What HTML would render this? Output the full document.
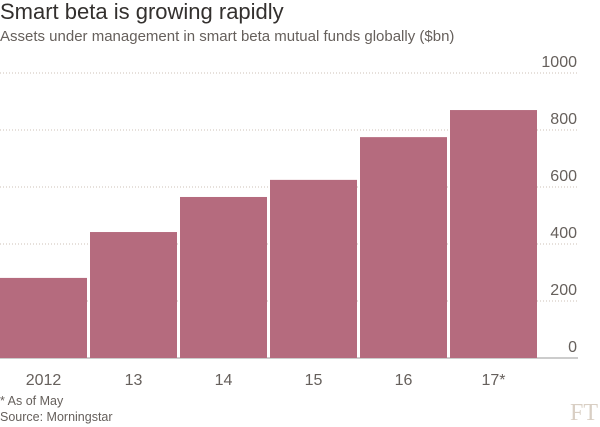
<!DOCTYPE html>
<html><head><meta charset="utf-8"><style>
body{margin:0;width:600px;height:426px;background:#fff;font-family:"Liberation Sans",sans-serif;overflow:hidden;position:relative}
.t{position:absolute;left:0;top:-1px;font-size:22px;color:#33302e}
.s{position:absolute;left:0;top:28px;font-size:15px;color:#66605c}
.n{position:absolute;left:0;font-size:12.5px;color:#66605c}
.ft{position:absolute;right:2px;top:400px;font-family:"Liberation Serif",serif;font-size:24px;color:#d9cfc4}
</style></head><body>
<div class="t">Smart beta is growing rapidly</div>
<div class="s">Assets under management in smart beta mutual funds globally ($bn)</div>
<svg id="c" width="600" height="426" style="position:absolute;left:0;top:0"></svg>
<div class="n" style="top:394px">* As of May</div>
<div class="n" style="top:410px">Source: Morningstar</div>
<div class="ft">FT</div>
<script>
const categories=["2012","13","14","15","16","17*"];
const values=[281,442,565,625,775,870];
const ticks=[0,200,400,600,800,1000];
const svg=document.getElementById('c');const NS='http://www.w3.org/2000/svg';
const y0=358,k=57/200;const y=v=>y0-v*k;const x=i=>i*90;
function mk(t,a){const e=document.createElementNS(NS,t);for(const q in a)e.setAttribute(q,a[q]);svg.appendChild(e);return e;}
ticks.forEach(t=>{
 const l=mk('line',{x1:0,x2:578,y1:y(t),y2:y(t),stroke:t?'#ccc1b7':'#999',"stroke-dasharray":t?'1,2':'none'});
 
 
 const tx=mk('text',{x:577,y:y(t)-6,"text-anchor":"end","font-size":"16",fill:'#66605c'});tx.textContent=t;
 
 
});
values.forEach((v,i)=>{
 const r=mk('rect',{x:x(i),y:y(v),width:87,height:v*k,fill:'#b56b7e'});
 
 
 const tx=mk('text',{x:x(i)+43.5,y:385,"text-anchor":"middle","font-size":"16",fill:'#66605c'});tx.textContent=categories[i];
 
 
});
</script>
</body></html>
